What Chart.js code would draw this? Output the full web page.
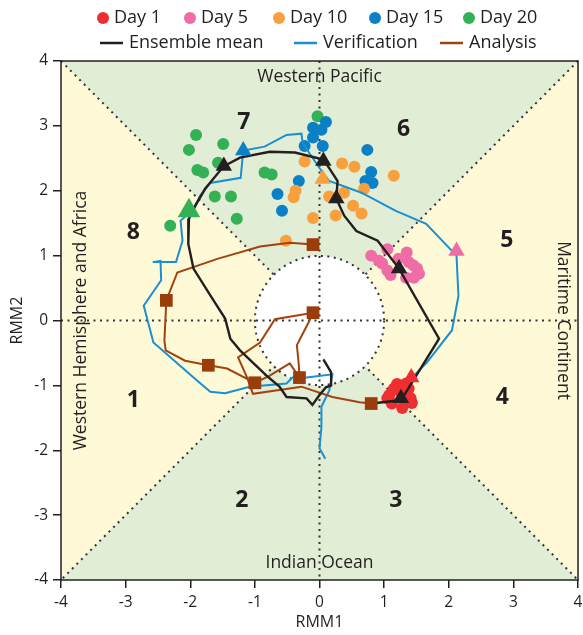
<!DOCTYPE html>
<html>
<head>
<meta charset="utf-8">
<script src="https://cdn.jsdelivr.net/npm/chart.js@4.4.0/dist/chart.umd.min.js"></script>
<style>
  html, body { margin: 0; background: #fff; overflow: hidden; }
  #wrap { width: 591px; height: 635px; }
</style>
</head>
<body>
<div id="wrap"><canvas id="chart" width="591" height="635"></canvas></div>
<script>
// ensemble members (RMM1, RMM2) at each forecast day
const day1 = [[1.08,-1.15],[1.12,-1.28],[1.2,-0.98],[1.34,-0.97],[1.38,-1.05],[1.41,-1.2],[1.28,-1.35],
  [1.43,-1.27],[1.25,-1.1],[1.15,-1.05],[1.32,-1.28],[1.05,-1.2],[1.36,-1.12]];
const day5 = [[0.8,1.0],[0.92,0.92],[0.97,0.88],[1.05,1.1],[1.35,1.05],[1.38,0.9],[1.51,0.8],[1.54,0.72],
  [1.46,0.66],[1.05,0.77],[1.1,0.7],[1.34,0.66],[1.22,0.95],[1.45,0.85]];
const day10 = [[-0.23,2.45],[0.35,2.42],[0.54,2.37],[1.15,2.23],[0.69,2.03],[-0.37,2.0],[-0.4,1.9],[0.15,1.91],
  [0.38,1.97],[0.52,1.77],[0.65,1.65],[0.25,1.62],[-0.1,1.58],[-0.52,1.23]];
const day15 = [[0.1,3.06],[-0.1,2.97],[0.03,2.94],[-0.1,2.82],[-0.23,2.69],[0.05,2.69],[0.74,2.63],[0.8,2.29],
  [0.71,2.15],[0.82,2.12],[-0.32,2.15],[-0.65,1.95],[-0.58,1.69]];
const day20 = [[-1.91,2.86],[-2.02,2.63],[-1.49,2.72],[-1.89,2.32],[-1.8,2.28],[-1.57,2.43],[-1.62,1.91],
  [-1.37,1.91],[-1.28,1.57],[-2.31,1.46],[-0.85,2.28],[-0.74,2.25],[-0.03,3.15]];

// trajectories
const ensembleMean = [[0.8,-1.28],[1.26,-1.23],[1.85,-0.28],[1.23,0.8],[0.9,1.23],[0.57,1.38],[0.38,1.62],
  [0.26,1.88],[0.28,2.15],[0.15,2.35],[0.06,2.48],[-0.38,2.59],[-0.77,2.6],[-1.23,2.51],[-1.48,2.38],
  [-1.77,2.03],[-1.92,1.77],[-2.02,1.57],[-2.03,1.18],[-1.95,0.8],[-1.66,0.34],[-1.46,0.03],[-1.38,-0.28],
  [-1.23,-0.46],[-0.82,-0.85],[-0.62,-1.02],[-0.51,-1.18],[-0.2,-1.2],[-0.11,-1.3],[0,-1.15],[0.1,-1.03],
  [0.18,-1.0],[0.18,-0.8],[0.06,-0.6]];
const verification = [[1.42,-0.88],[1.49,-0.82],[1.66,-0.65],[2.05,-0.15],[2.15,0.38],[2.12,1.0],[1.65,1.49],
  [1.18,1.69],[0.65,1.97],[0.15,2.15],[0,2.35],[-0.15,2.57],[-0.26,2.74],[-0.28,2.88],[-0.51,2.86],
  [-0.85,2.68],[-1.18,2.62],[-1.22,2.2],[-1.69,2.12],[-1.85,1.92],[-1.97,1.69],[-2.15,1.54],[-2.12,1.23],
  [-2.22,0.9],[-2.58,0.9],[-2.46,0.92],[-2.45,0.62],[-2.72,0.23],[-2.57,-0.34],[-1.9,-0.92],[-1.69,-1.1],
  [-1.46,-1.12],[-1.08,-1.02],[-0.51,-0.97],[-0.42,-0.88],[-0.2,-0.88],[0.2,-0.83],[0.15,-1.08],
  [0.03,-1.33],[0.03,-1.64],[0,-1.97],[0.09,-2.13]];
const analysis = [[-0.1,1.17],[-0.46,1.2],[-0.92,1.14],[-1.58,0.95],[-2.2,0.74],[-2.37,0.31],[-2.4,-0.31],
  [-2.38,-0.46],[-2.08,-0.62],[-1.72,-0.69],[-1.43,-0.74],[-1.0,-0.96],[-0.77,-0.85],[-0.46,-0.66],
  [-0.31,-0.88],[-0.32,-0.69],[-0.35,-0.38],[-0.17,-0.03],[-0.1,0.12],[-0.69,0.02],[-0.92,-0.34],
  [-1.26,-0.57],[-1.12,-0.88],[-1.03,-1.13],[-0.28,-1.02],[0.2,-1.18],[0.62,-1.26],[0.8,-1.28]];
const analysisMarks = [[-0.1,1.17],[-2.37,0.31],[-1.72,-0.69],[-1.0,-0.96],[-0.31,-0.88],[-0.1,0.12],[0.8,-1.28]];

// day 1, 5, 10, 15, 20 positions
const verifDays = [[1.42,-0.88],[2.12,1.07],[0.05,2.18],[-1.18,2.62],[-2.02,1.69]];
const meanDays = [[1.26,-1.2],[1.23,0.8],[0.26,1.88],[0.06,2.46],[-1.48,2.38]];

const tickValues = [-4, -3, -2, -1, 0, 1, 2, 3, 4];
const dayNames = ['Day 1', 'Day 5', 'Day 10', 'Day 15', 'Day 20'];
const dayColors = ['#ee2e31', '#f06ca6', '#f8a03d', '#0b80c6', '#34b056'];

const GREEN = '#e1edd5';
const YELLOW = '#fefad7';
const FONT = '"Open Sans", "DejaVu Sans", sans-serif';

const toPts = arr => arr.map(([x, y]) => ({ x, y }));

const phaseBackground = {
  id: 'phaseBackground',
  beforeDatasetsDraw(chart) {
    const { ctx, chartArea: a, scales: { x, y } } = chart;
    const cx = x.getPixelForValue(0), cy = y.getPixelForValue(0);
    ctx.save();
    ctx.fillStyle = YELLOW;
    ctx.fillRect(a.left, a.top, a.width, a.height);
    ctx.fillStyle = GREEN;
    ctx.beginPath();
    ctx.moveTo(a.left, a.top); ctx.lineTo(a.right, a.top); ctx.lineTo(cx, cy); ctx.closePath();
    ctx.moveTo(a.left, a.bottom); ctx.lineTo(a.right, a.bottom); ctx.lineTo(cx, cy); ctx.closePath();
    ctx.fill();

    ctx.strokeStyle = '#333';
    ctx.lineWidth = 2;
    ctx.setLineDash([2, 4.5]);
    ctx.beginPath();
    ctx.moveTo(a.left, a.top); ctx.lineTo(a.right, a.bottom);
    ctx.moveTo(a.right, a.top); ctx.lineTo(a.left, a.bottom);
    ctx.stroke();

    // white circle of amplitude 1
    const r = x.getPixelForValue(1) - cx;
    ctx.fillStyle = '#fff';
    ctx.beginPath(); ctx.arc(cx, cy, r, 0, Math.PI * 2); ctx.fill();
    ctx.stroke();

    ctx.beginPath();
    ctx.moveTo(cx, a.top); ctx.lineTo(cx, a.bottom);
    ctx.moveTo(a.left, cy); ctx.lineTo(a.right, cy);
    ctx.stroke();
    ctx.setLineDash([]);

    // phase numbers
    ctx.fillStyle = '#231f20';
    ctx.textAlign = 'center';
    ctx.textBaseline = 'middle';
    ctx.font = 'bold 23px ' + FONT;
    const phases = [['1', -2.88, -1.23], ['2', -1.2, -2.77], ['3', 1.18, -2.77], ['4', 2.83, -1.18],
      ['5', 2.9, 1.23], ['6', 1.3, 2.95], ['7', -1.17, 3.05], ['8', -2.88, 1.35]];
    phases.forEach(([t, px, py]) => ctx.fillText(t, x.getPixelForValue(px), y.getPixelForValue(py)));

    ctx.font = '17.5px ' + FONT;
    ctx.fillText('Western Pacific', cx, y.getPixelForValue(3.75));
    ctx.fillText('Indian Ocean', cx, y.getPixelForValue(-3.74));
    ctx.save();
    ctx.translate(x.getPixelForValue(-3.69), cy);
    ctx.rotate(-Math.PI / 2);
    ctx.fillText('Western Hemisphere and Africa', 0, 0);
    ctx.restore();
    ctx.save();
    ctx.translate(x.getPixelForValue(3.77), cy);
    ctx.rotate(Math.PI / 2);
    ctx.fillText('Maritime Continent', 0, 0);
    ctx.restore();
    ctx.restore();
  },
  afterDraw(chart) {
    const { ctx, chartArea: a } = chart;
    ctx.save();
    ctx.strokeStyle = '#231f20';
    ctx.lineWidth = 1.5;
    ctx.strokeRect(a.left, a.top, a.width, a.height);

    // legend
    ctx.font = '18px ' + FONT;
    ctx.textBaseline = 'middle';
    ctx.textAlign = 'left';
    const dotX = [103, 190, 279, 375, 469];
    dayNames.forEach((n, i) => {
      ctx.fillStyle = dayColors[i];
      ctx.beginPath(); ctx.arc(dotX[i], 18, 6, 0, Math.PI * 2); ctx.fill();
      ctx.fillStyle = '#231f20';
      ctx.fillText(n, dotX[i] + 11, 18);
    });
    const lines = [['Ensemble mean', '#231f20', 100], ['Verification', '#1b8fd0', 294], ['Analysis', '#a3420f', 440]];
    lines.forEach(([n, c, lx]) => {
      ctx.strokeStyle = c; ctx.lineWidth = 2.5;
      ctx.beginPath(); ctx.moveTo(lx, 43); ctx.lineTo(lx + 23, 43); ctx.stroke();
      ctx.fillText(n, lx + 29, 43);
    });
    ctx.restore();
  }
};

const scatterSets = [day1, day5, day10, day15, day20].map((d, i) => ({
  label: dayNames[i],
  data: toPts(d),
  backgroundColor: dayColors[i],
  borderWidth: 0,
  pointRadius: 6,
  order: 10
}));

const axisFont = { family: FONT, size: 15.5 };

new Chart(document.getElementById('chart'), {
  type: 'scatter',
  data: {
    datasets: [
      ...scatterSets,
      { label: 'Verification', data: toPts(verification), showLine: true, borderColor: '#1b8fd0',
        borderWidth: 2, pointRadius: 0, order: 6 },
      { label: 'Analysis', data: toPts(analysis), showLine: true, borderColor: '#a3420f',
        borderWidth: 2, pointRadius: 0, order: 5 },
      { label: 'Ensemble mean', data: toPts(ensembleMean), showLine: true, borderColor: '#231f20',
        borderWidth: 2.4, pointRadius: 0, order: 4 },
      { label: 'Analysis marks', data: toPts(analysisMarks), pointStyle: 'rect', pointRadius: 9,
        backgroundColor: '#9b3c0b', borderWidth: 0, order: 3 },
      { label: 'Verification days', data: toPts(verifDays), pointStyle: 'triangle',
        pointRadius: [9.5, 9.5, 9.5, 9.5, 13], backgroundColor: dayColors, borderWidth: 0, order: 2 },
      { label: 'Mean days', data: toPts(meanDays), pointStyle: 'triangle', pointRadius: 9.5,
        backgroundColor: '#231f20', borderWidth: 0, order: 1 }
    ]
  },
  options: {
    responsive: false,
    animation: false,
    events: [],
    layout: { padding: { top: 61, right: 0, left: 0, bottom: 0 } },
    plugins: { legend: { display: false }, tooltip: { enabled: false } },
    scales: {
      x: {
        type: 'linear', min: -4, max: 4,
        afterFit: s => { s.height = 55; },
        afterBuildTicks: s => { s.ticks = tickValues.map(v => ({ value: v })); },
        grid: { drawOnChartArea: false, color: '#231f20', lineWidth: 1.5, tickLength: 8 },
        border: { display: false },
        ticks: { color: '#231f20', font: axisFont, padding: 5, maxRotation: 0 },
        title: { display: true, text: 'RMM1', color: '#231f20', font: { family: FONT, size: 16 },
          padding: { top: 0, bottom: 3 } }
      },
      y: {
        type: 'linear', min: -4, max: 4,
        afterFit: s => { s.width = 61; },
        afterBuildTicks: s => { s.ticks = tickValues.map(v => ({ value: v })); },
        grid: { drawOnChartArea: false, color: '#231f20', lineWidth: 1.5, tickLength: 8 },
        border: { display: false },
        ticks: { color: '#231f20', font: axisFont, padding: 5 },
        title: { display: true, text: 'RMM2', color: '#231f20', font: { family: FONT, size: 16 },
          padding: { top: 8, bottom: 0 } }
      }
    }
  },
  plugins: [phaseBackground]
});
</script>
</body>
</html>
